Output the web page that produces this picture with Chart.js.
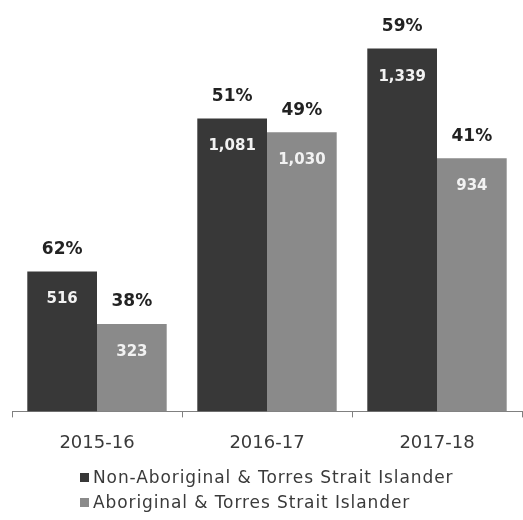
<!DOCTYPE html>
<html>
<head>
<meta charset="utf-8">
<script src="https://cdn.jsdelivr.net/npm/chart.js@4"></script>
<style>
  body { margin: 0; background: #fff; }
  #wrap { position: relative; width: 523px; height: 520px; }
  #grafica { position: absolute; left: 0; top: 0; }
  #leyenda { position: absolute; left: 80px; top: 465px; font-family: "DejaVu Sans", sans-serif; font-size: 17px; letter-spacing: 0.9px; color: #3a3a3a; }
  #leyenda div { height: 25px; line-height: 25px; white-space: nowrap; }
  #leyenda span.caja { display: inline-block; width: 9px; height: 9px; margin-right: 4px; vertical-align: 1px; }
</style>
</head>
<body>
<div id="wrap">
  <canvas id="grafica" width="523" height="469"></canvas>
  <div id="leyenda"></div>
</div>
<script>
// Datos del gráfico
const anios = ["2015-16", "2016-17", "2017-18"];
const noAborigen = [516, 1081, 1339];
const aborigen = [323, 1030, 934];
const pctNoAborigen = [62, 51, 59];
const pctAborigen = [38, 49, 41];
const colores = ["#383838", "#8a8a8a"];
const nombres = ["Non-Aboriginal & Torres Strait Islander", "Aboriginal & Torres Strait Islander"];

// Etiquetas: porcentaje encima de la barra y valor dentro
const etiquetasBarras = {
  id: "etiquetasBarras",
  afterDatasetsDraw(chart) {
    const ctx = chart.ctx;
    const pcts = [pctNoAborigen, pctAborigen];
    ctx.save();
    ctx.textAlign = "center";
    ctx.textBaseline = "middle";
    chart.data.datasets.forEach((ds, i) => {
      chart.getDatasetMeta(i).data.forEach((barra, j) => {
        ctx.font = "bold 17px 'DejaVu Sans'";
        ctx.fillStyle = "#222";
        ctx.fillText(pcts[i][j] + "%", barra.x, barra.y - 22);
        ctx.font = "bold 15px 'DejaVu Sans'";
        ctx.fillStyle = "#f2f2f2";
        ctx.fillText(ds.data[j].toLocaleString("en-US"), barra.x, barra.y + 28);
      });
    });
    ctx.restore();
  }
};

const ctx = document.getElementById("grafica").getContext("2d");
new Chart(ctx, {
  type: "bar",
  data: {
    labels: anios,
    datasets: [
      { label: nombres[0], data: noAborigen, backgroundColor: colores[0] },
      { label: nombres[1], data: aborigen, backgroundColor: colores[1] }
    ]
  },
  options: {
    responsive: false,
    animation: false,
    layout: { padding: { left: 12, right: 1, top: 5, bottom: 0 } },
    datasets: { bar: { categoryPercentage: 0.82, barPercentage: 1 } },
    plugins: { legend: { display: false }, tooltip: { enabled: false } },
    scales: {
      x: {
        grid: { drawOnChartArea: false, tickLength: 6, color: "#808080" },
        border: { color: "#808080" },
        ticks: { color: "#3a3a3a", font: { family: "DejaVu Sans", size: 18 }, padding: 15 }
      },
      y: { display: false, min: 0, max: 1500 }
    }
  },
  plugins: [etiquetasBarras]
});

// Leyenda en HTML, una entrada por línea
const leyenda = document.getElementById("leyenda");
nombres.forEach((n, i) => {
  leyenda.innerHTML += '<div><span class="caja" style="background:' + colores[i] + '"></span>' + n + '</div>';
});
</script>
</body>
</html>
